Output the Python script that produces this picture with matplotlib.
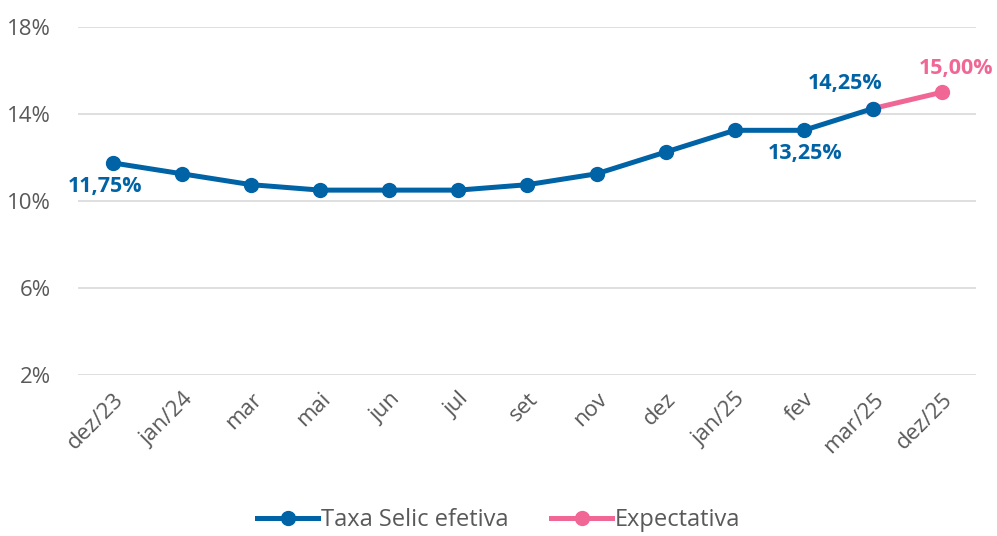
import numpy as np
import matplotlib.pyplot as plt

plt.rcParams['font.family'] = ['Open Sans', 'DejaVu Sans']

# Dados
meses = ['dez/23', 'jan/24', 'mar', 'mai', 'jun', 'jul', 'set', 'nov',
         'dez', 'jan/25', 'fev', 'mar/25', 'dez/25']
selic = [11.75, 11.25, 10.75, 10.5, 10.5, 10.5, 10.75, 11.25,
         12.25, 13.25, 13.25, 14.25, np.nan]
expectativa = [np.nan] * 11 + [14.25, 15.00]
yticks = [2, 6, 10, 14, 18]

azul = '#0063A6'
rosa = '#F06796'
cinza = '#595959'

fig = plt.figure(figsize=(9.97, 5.36), dpi=100)
ax = fig.add_axes([0.0787, 0.3004, 0.9007, 0.6492])

x = np.arange(len(meses))
ax.plot(x, expectativa, color=rosa, lw=3.6, marker='o', ms=10,
        label='Expectativa', zorder=3)
ax.plot(x, selic, color=azul, lw=3.6, marker='o', ms=10,
        label='Taxa Selic efetiva', zorder=4)

# Rótulos de dados
rot = dict(ha='center', va='center', fontsize=15.5, fontweight='bold',
           textcoords='offset points')
ax.annotate('11,75%', (0, 11.75), xytext=(-6, -17), color=azul, **rot)
ax.annotate('13,25%', (10, 13.25), xytext=(1, -17), color=azul, **rot)
ax.annotate('14,25%', (11, 14.25), xytext=(-20, 18), color=azul, **rot)
ax.annotate('15,00%', (12, 15.00), xytext=(10, 17), color=rosa, **rot)

ax.set_xlim(-0.5, len(meses) - 0.5)
ax.set_ylim(2, 18)
ax.set_yticks(yticks)
ax.set_yticklabels([f'{v}%' for v in yticks])
ax.set_xticks(x)
ax.set_xticklabels(meses, rotation=45, ha='right', rotation_mode='anchor')
ax.tick_params(length=0, labelsize=16, labelcolor=cinza)
ax.tick_params(axis='y', pad=20)
ax.tick_params(axis='x', pad=10)
ax.grid(axis='y', color='#d9d9d9', lw=1.2)
ax.set_axisbelow(True)
for s in ax.spines.values():
    s.set_visible(False)

h, l = ax.get_legend_handles_labels()
fig.legend(h[::-1], l[::-1], loc='center', bbox_to_anchor=(0.5, 0.03), ncol=2,
           frameon=False, fontsize=17, labelcolor=cinza, handlelength=2.6,
           handletextpad=0.1, columnspacing=1.8)

fig.savefig('out.png', dpi=100)
